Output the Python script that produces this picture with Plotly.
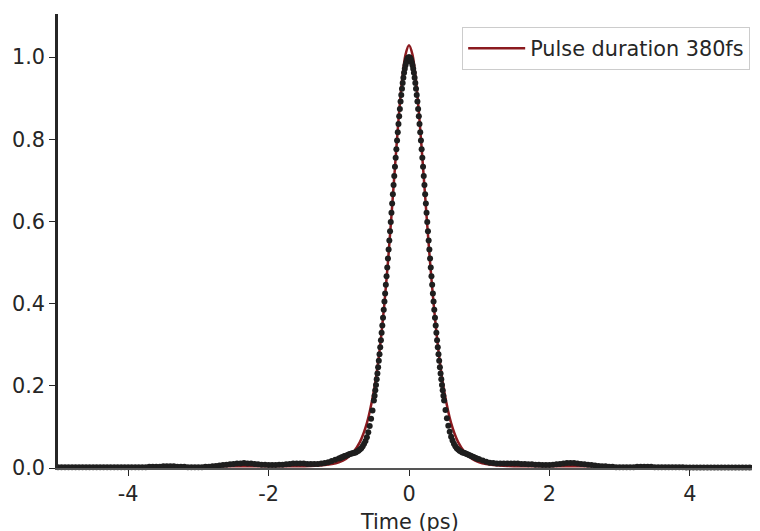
import plotly.graph_objects as go

# ---------------- data ----------------
# measured autocorrelation (black dots)
time_ps = [
    -5.00, -4.95, -4.90, -4.85, -4.80, -4.75, -4.70, -4.65, -4.60, -4.55,
    -4.50, -4.45, -4.40, -4.35, -4.30, -4.25, -4.20, -4.15, -4.10, -4.05,
    -4.00, -3.95, -3.90, -3.85, -3.80, -3.75, -3.70, -3.65, -3.60, -3.55,
    -3.50, -3.45, -3.40, -3.35, -3.30, -3.25, -3.20, -3.15, -3.10, -3.05,
    -3.00, -2.95, -2.90, -2.85, -2.80, -2.75, -2.70, -2.65, -2.60, -2.55,
    -2.50, -2.45, -2.40, -2.35, -2.30, -2.25, -2.20, -2.15, -2.10, -2.05,
    -2.00, -1.95, -1.90, -1.85, -1.80, -1.75, -1.70, -1.65, -1.60, -1.55,
    -1.50, -1.45, -1.40, -1.35, -1.30, -1.25, -1.20, -1.15, -1.10, -1.05,
    -1.00, -0.98, -0.96, -0.94, -0.92, -0.90, -0.88, -0.86, -0.84, -0.82,
    -0.80, -0.78, -0.76, -0.74, -0.72, -0.70, -0.68, -0.66, -0.64, -0.62,
    -0.60, -0.58, -0.56, -0.54, -0.52,
    -0.50, -0.49, -0.48, -0.47, -0.46, -0.45, -0.44, -0.43, -0.42, -0.41,
    -0.40, -0.39, -0.38, -0.37, -0.36, -0.35, -0.34, -0.33, -0.32, -0.31,
    -0.30, -0.29, -0.28, -0.27, -0.26, -0.25, -0.24, -0.23, -0.22, -0.21,
    -0.20, -0.19, -0.18, -0.17, -0.16, -0.15, -0.14, -0.13, -0.12, -0.11,
    -0.10, -0.09, -0.08, -0.07, -0.06, -0.05, -0.04, -0.03, -0.02, -0.01,
    0.00,
    0.01, 0.02, 0.03, 0.04, 0.05, 0.06, 0.07, 0.08, 0.09, 0.10,
    0.11, 0.12, 0.13, 0.14, 0.15, 0.16, 0.17, 0.18, 0.19, 0.20,
    0.21, 0.22, 0.23, 0.24, 0.25, 0.26, 0.27, 0.28, 0.29, 0.30,
    0.31, 0.32, 0.33, 0.34, 0.35, 0.36, 0.37, 0.38, 0.39, 0.40,
    0.41, 0.42, 0.43, 0.44, 0.45, 0.46, 0.47, 0.48, 0.49, 0.50,
    0.52, 0.54, 0.56, 0.58, 0.60, 0.62, 0.64, 0.66, 0.68, 0.70,
    0.72, 0.74, 0.76, 0.78, 0.80, 0.82, 0.84, 0.86, 0.88, 0.90,
    0.92, 0.94, 0.96, 0.98, 1.00,
    1.05, 1.10, 1.15, 1.20, 1.25, 1.30, 1.35, 1.40, 1.45, 1.50,
    1.55, 1.60, 1.65, 1.70, 1.75, 1.80, 1.85, 1.90, 1.95, 2.00,
    2.05, 2.10, 2.15, 2.20, 2.25, 2.30, 2.35, 2.40, 2.45, 2.50,
    2.55, 2.60, 2.65, 2.70, 2.75, 2.80, 2.85, 2.90, 2.95, 3.00,
    3.05, 3.10, 3.15, 3.20, 3.25, 3.30, 3.35, 3.40, 3.45, 3.50,
    3.55, 3.60, 3.65, 3.70, 3.75, 3.80, 3.85, 3.90, 3.95, 4.00,
    4.05, 4.10, 4.15, 4.20, 4.25, 4.30, 4.35, 4.40, 4.45, 4.50,
    4.55, 4.60, 4.65, 4.70, 4.75, 4.80, 4.85, 4.90, 4.95, 5.00,
]
intensity = [
    0.002, 0.002, 0.002, 0.002, 0.002, 0.002, 0.002, 0.002, 0.002, 0.002,
    0.002, 0.002, 0.002, 0.002, 0.002, 0.002, 0.002, 0.002, 0.002, 0.002,
    0.002, 0.002, 0.002, 0.002, 0.002, 0.002, 0.003, 0.003, 0.003, 0.003,
    0.004, 0.004, 0.004, 0.004, 0.003, 0.003, 0.003, 0.002, 0.002, 0.002,
    0.002, 0.002, 0.003, 0.003, 0.004, 0.005, 0.006, 0.007, 0.008, 0.009,
    0.010, 0.011, 0.011, 0.012, 0.011, 0.011, 0.010, 0.009, 0.008, 0.008,
    0.007, 0.007, 0.007, 0.008, 0.008, 0.009, 0.010, 0.011, 0.011, 0.011,
    0.011, 0.010, 0.010, 0.010, 0.010, 0.011, 0.012, 0.014, 0.017, 0.020,
    0.023, 0.024, 0.026, 0.027, 0.029, 0.030, 0.031, 0.033, 0.034, 0.035,
    0.036, 0.037, 0.038, 0.040, 0.042, 0.045, 0.048, 0.053, 0.059, 0.066,
    0.075, 0.087, 0.102, 0.120, 0.140,
    0.164, 0.176, 0.189, 0.202, 0.216, 0.230, 0.245, 0.261, 0.277, 0.294,
    0.311, 0.329, 0.347, 0.366, 0.385, 0.405, 0.425, 0.446, 0.467, 0.488,
    0.510, 0.532, 0.554, 0.576, 0.599, 0.621, 0.644, 0.666, 0.689, 0.711,
    0.733, 0.755, 0.776, 0.797, 0.817, 0.837, 0.856, 0.874, 0.892, 0.908,
    0.923, 0.937, 0.950, 0.962, 0.972, 0.980, 0.987, 0.993, 0.997, 0.999,
    1.000,
    0.999, 0.997, 0.993, 0.987, 0.980, 0.972, 0.962, 0.950, 0.937, 0.923,
    0.908, 0.892, 0.874, 0.856, 0.837, 0.817, 0.797, 0.776, 0.755, 0.733,
    0.711, 0.689, 0.666, 0.644, 0.621, 0.599, 0.576, 0.554, 0.532, 0.510,
    0.488, 0.467, 0.446, 0.425, 0.405, 0.385, 0.366, 0.347, 0.329, 0.311,
    0.294, 0.277, 0.261, 0.245, 0.230, 0.216, 0.202, 0.189, 0.176, 0.164,
    0.141, 0.121, 0.103, 0.088, 0.076, 0.067, 0.059, 0.053, 0.048, 0.045,
    0.042, 0.040, 0.038, 0.037, 0.036, 0.034, 0.033, 0.031, 0.030, 0.028,
    0.027, 0.025, 0.024, 0.022, 0.021,
    0.018, 0.015, 0.013, 0.012, 0.011, 0.011, 0.011, 0.011, 0.011, 0.011,
    0.011, 0.010, 0.010, 0.009, 0.009, 0.008, 0.008, 0.007, 0.007, 0.007,
    0.008, 0.009, 0.010, 0.011, 0.012, 0.012, 0.012, 0.011, 0.010, 0.009,
    0.008, 0.007, 0.006, 0.005, 0.004, 0.004, 0.003, 0.003, 0.002, 0.002,
    0.002, 0.002, 0.002, 0.002, 0.003, 0.003, 0.003, 0.003, 0.003, 0.002,
    0.002, 0.002, 0.002, 0.002, 0.002, 0.002, 0.002, 0.002, 0.001, 0.001,
    0.001, 0.001, 0.001, 0.001, 0.001, 0.001, 0.001, 0.001, 0.001, 0.001,
    0.001, 0.001, 0.001, 0.001, 0.001, 0.001, 0.001, 0.001, 0.001, 0.001,
]

# fitted curve (dark red line)
fit_time = [
    -5.0, -4.0, -3.0, -2.5, -2.0, -1.6, -1.4, -1.2, -1.1, -1.0,
    -0.9, -0.8, -0.7, -0.6, -0.5, -0.45, -0.4, -0.35, -0.3, -0.25,
    -0.2, -0.15, -0.1, -0.05, 0.0, 0.05, 0.1, 0.15, 0.2, 0.25,
    0.3, 0.35, 0.4, 0.45, 0.5, 0.6, 0.7, 0.8, 0.9, 1.0,
    1.1, 1.2, 1.4, 1.6, 2.0, 2.5, 3.0, 4.0, 5.0,
]
fit_intensity = [
    0.004, 0.004, 0.004, 0.004, 0.004, 0.0043, 0.0051, 0.007, 0.0095, 0.014,
    0.022, 0.037, 0.063, 0.109, 0.188, 0.244, 0.315, 0.401, 0.501, 0.614,
    0.732, 0.846, 0.942, 1.006, 1.029, 1.006, 0.942, 0.846, 0.732, 0.614,
    0.501, 0.401, 0.315, 0.244, 0.188, 0.109, 0.063, 0.037, 0.022, 0.014,
    0.0095, 0.007, 0.0051, 0.0043, 0.004, 0.004, 0.004, 0.004, 0.004,
]

legend_label = "Pulse duration 380fs"
x_tick_vals = [-4, -2, 0, 2, 4]
x_tick_text = ["-4", "-2", "0", "2", "4"]
y_tick_vals = [0.0, 0.2, 0.4, 0.6, 0.8, 1.0]
y_tick_text = ["0.0", "0.2", "0.4", "0.6", "0.8", "1.0"]
x_title = "Time (ps)"

# ---------------- styles ----------------
FIT_COLOR = "#8b1a1f"
DOT_COLOR = "#1e1e1e"
AXIS_COLOR = "#262626"
FONT = "DejaVu Sans"
FS = 20.8

fig = go.Figure()
fig.add_trace(go.Scatter(
    x=fit_time, y=fit_intensity, mode="lines", name=legend_label,
    line=dict(color=FIT_COLOR, width=2.5, shape="spline", smoothing=0.8),
    cliponaxis=False,
))
fig.add_trace(go.Scatter(
    x=time_ps, y=intensity, mode="markers", showlegend=False,
    marker=dict(color=DOT_COLOR, size=6, line=dict(width=0)),
    cliponaxis=False,
))

# page body has an 8px default margin, so the figure is sized 752x523
fig.update_layout(
    width=752, height=523,
    margin=dict(l=50, r=0, t=6, b=63),
    paper_bgcolor="white", plot_bgcolor="white",
    font=dict(family=FONT, size=FS, color=AXIS_COLOR),
    showlegend=True,
    legend=dict(
        x=0.986, y=0.971, xanchor="right", yanchor="top",
        bgcolor="rgba(255,255,255,0.85)", bordercolor="#cccccc", borderwidth=1,
        font=dict(family=FONT, size=FS, color=AXIS_COLOR),
        itemwidth=57,
    ),
    annotations=[dict(
        text=x_title, xref="paper", yref="paper", x=0.5, y=0,
        xanchor="center", yanchor="top", yshift=-40, showarrow=False,
        font=dict(family=FONT, size=FS, color=AXIS_COLOR),
    )],
)
fig.update_xaxes(
    range=[-5, 5], tickmode="array", tickvals=x_tick_vals, ticktext=x_tick_text,
    showgrid=False, zeroline=False,
    showline=True, linecolor="#555555", linewidth=1.5,
    ticks="outside", ticklen=6, tickwidth=1.2, tickcolor=AXIS_COLOR,
    tickfont=dict(family=FONT, size=FS, color=AXIS_COLOR),
    automargin=False,
)
fig.update_yaxes(
    range=[0, 1.105], tickmode="array", tickvals=y_tick_vals, ticktext=y_tick_text,
    showgrid=False, zeroline=False,
    showline=True, linecolor=AXIS_COLOR, linewidth=2.5,
    ticks="outside", ticklen=6, tickwidth=1.2, tickcolor=AXIS_COLOR,
    tickfont=dict(family=FONT, size=FS, color=AXIS_COLOR),
    automargin=False,
)

fig.write_html("out.html")
